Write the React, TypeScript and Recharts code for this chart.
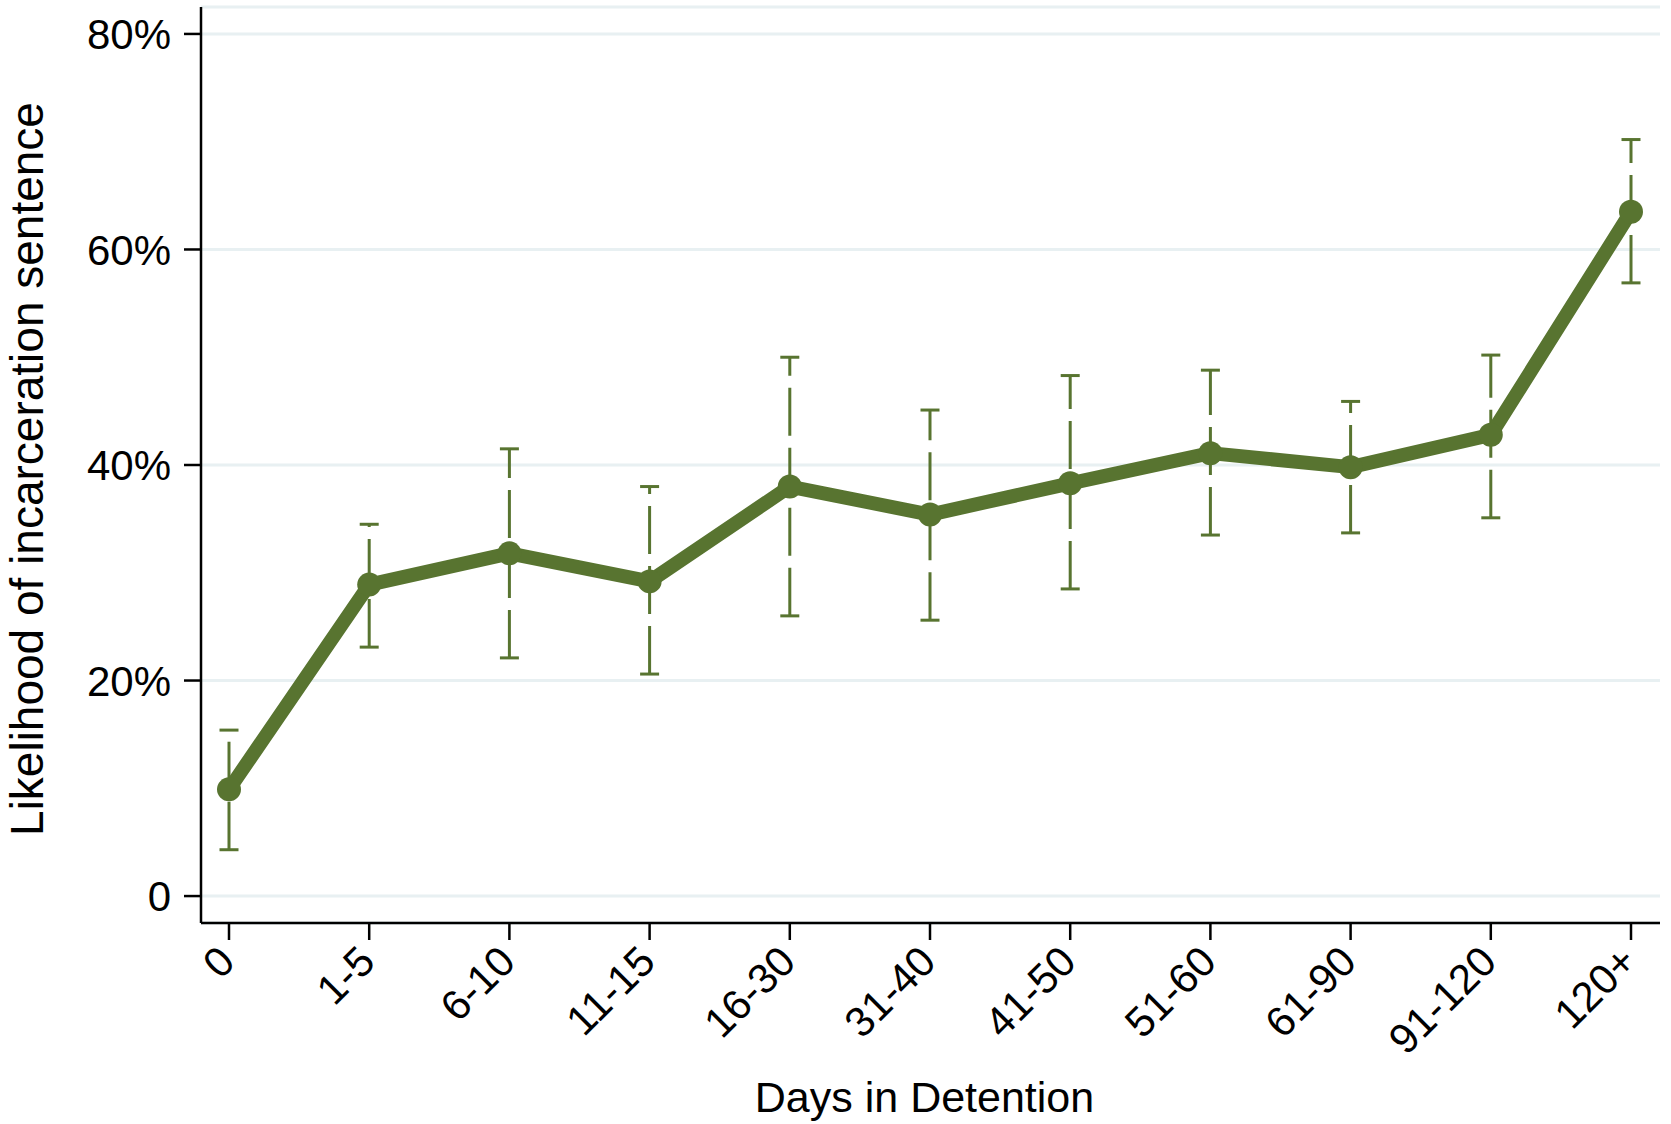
import { CartesianGrid, ErrorBar, Line, LineChart, XAxis, YAxis } from "recharts";

const categories = ["0", "1-5", "6-10", "11-15", "16-30", "31-40", "41-50", "51-60", "61-90", "91-120", "120+"];
const rate = [9.9, 28.9, 31.8, 29.2, 38.0, 35.4, 38.3, 41.1, 39.8, 42.8, 63.5];
const ciLow = [4.3, 23.1, 22.1, 20.6, 26.0, 25.6, 28.5, 33.5, 33.7, 35.1, 56.9];
const ciHigh = [15.4, 34.5, 41.5, 38.0, 50.0, 45.1, 48.3, 48.8, 45.9, 50.2, 70.2];
const yTicks = [0, 20, 40, 60, 80];

const green = "#587430";
const font = "'Liberation Sans', Arial, Helvetica, sans-serif";

const data = categories.map((c, i) => ({
  days: c,
  rate: rate[i],
  err: [rate[i] - ciLow[i], ciHigh[i] - rate[i]],
}));

function XTick({ x, y, payload }: any) {
  return (
    <text
      transform={`translate(${x + 8}, ${y + 24}) rotate(-45)`}
      textAnchor="end"
      fontSize={42}
      fontFamily={font}
      fill="#000"
    >
      {payload.value}
    </text>
  );
}

function YTick({ x, y, payload }: any) {
  return (
    <text x={x - 13} y={y} dy="0.36em" textAnchor="end" fontSize={42} fontFamily={font} fill="#000">
      {payload.value === 0 ? "0" : `${payload.value}%`}
    </text>
  );
}

function YTitle({ viewBox }: any) {
  const cx = viewBox.x + 43;
  const cy = viewBox.y + viewBox.height / 2 + 4;
  return (
    <text
      transform={`translate(${cx}, ${cy}) rotate(-90)`}
      textAnchor="middle"
      fontSize={46}
      fontFamily={font}
      fill="#000"
    >
      Likelihood of incarceration sentence
    </text>
  );
}

function XTitle({ viewBox }: any) {
  return (
    <text
      x={viewBox.x + viewBox.width / 2 - 6}
      y={viewBox.y + 189}
      textAnchor="middle"
      fontSize={43}
      fontFamily={font}
      fill="#000"
    >
      Days in Detention
    </text>
  );
}

export default function App() {
  return (
    <div style={{ position: "absolute", left: 0, top: 0, width: 1671, height: 1124, background: "#fff" }}>
      <LineChart width={1671} height={1124} data={data} margin={{ top: 7, right: 11, bottom: 0, left: 0 }}>
        <CartesianGrid vertical={false} stroke="#e8f0f2" strokeWidth={3} />
        <XAxis
          dataKey="days"
          padding={{ left: 28, right: 29 }}
          height={201}
          tickSize={17}
          tickMargin={0}
          interval={0}
          axisLine={{ stroke: "#000", strokeWidth: 2.5 }}
          tickLine={{ stroke: "#000", strokeWidth: 2.5 }}
          tick={<XTick />}
          label={<XTitle />}
        />
        <YAxis
          width={201}
          domain={[-2.5, 82.5]}
          ticks={yTicks}
          tickSize={17}
          tickMargin={0}
          axisLine={{ stroke: "#000", strokeWidth: 2.5 }}
          tickLine={{ stroke: "#000", strokeWidth: 2.5 }}
          tick={<YTick />}
          label={<YTitle />}
        />
        <Line dataKey="rate" stroke="none" dot={false} activeDot={false} isAnimationActive={false}>
          <ErrorBar
            dataKey="err"
            direction="y"
            width={9.5}
            stroke={green}
            strokeWidth={3}
            strokeDasharray="48 12"
            isAnimationActive={false}
          />
        </Line>
        <Line
          type="linear"
          dataKey="rate"
          stroke={green}
          strokeWidth={14}
          strokeLinejoin="round"
          dot={{ r: 12, fill: green, stroke: green, strokeWidth: 0 }}
          activeDot={false}
          isAnimationActive={false}
        />
      </LineChart>
    </div>
  );
}
